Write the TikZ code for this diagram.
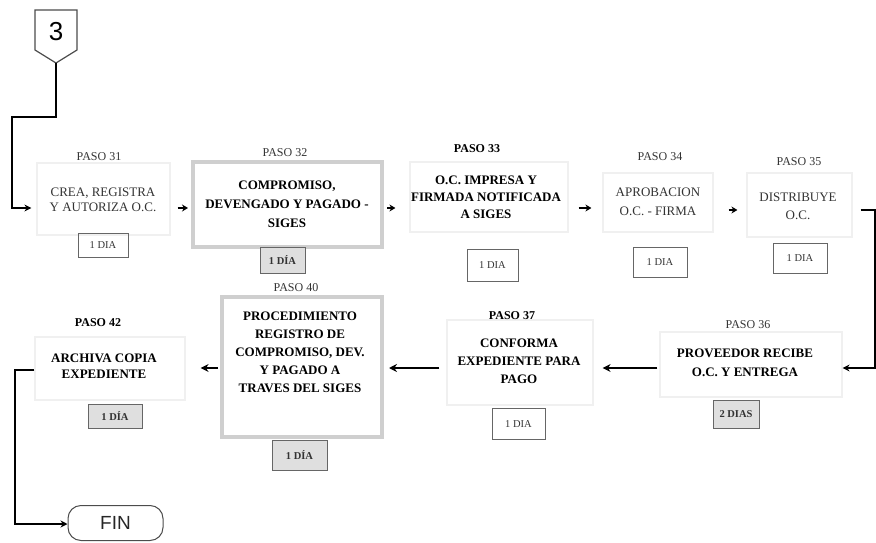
\documentclass[tikz,border=0pt]{standalone}
\usepackage{fontspec}
\setmainfont{Liberation Serif}
\newfontfamily\sansf{Liberation Sans}
\usetikzlibrary{arrows.meta}
\begin{document}
\begin{tikzpicture}[x=1pt,y=-1pt,
  faint/.style={draw=gray!12, line width=1.2pt, inner sep=0pt},
  heavybox/.style={draw=gray!38, line width=4pt, fill=white, inner sep=0pt},
  daybox/.style={draw=black!60, line width=0.9pt, inner sep=0pt, text=black!80, font=\fontsize{10.5}{12}\selectfont},
  daygray/.style={daybox, fill=gray!25, font=\bfseries\fontsize{10.5}{12}\selectfont},
  paso/.style={font=\fontsize{12}{14}\selectfont, text=black!80},
  pasob/.style={font=\bfseries\fontsize{12}{14}\selectfont},
  txt/.style={align=center, inner sep=0pt, text=black!80},
  txtb/.style={align=center, inner sep=0pt, font=\bfseries},
  conn/.style={line width=1.8pt, -{Stealth[length=7pt,width=7pt]}},
  small arrow/.style={line width=1.6pt, -{Stealth[length=6pt,width=7pt]}},
  big arrow/.style={line width=2.2pt, -{Stealth[length=8pt,width=8pt]}}
]
\useasboundingbox (0,0) rectangle (876,543);

% off-page connector 3
\draw[draw=black!70, line width=1.2pt] (35,10) -- (77,10) -- (77,50) -- (56,63) -- (35,50) -- cycle;
\node[font=\sansf\fontsize{26}{28}\selectfont] (c3) at (56,32) {3};
\coordinate (c3s) at (56,63);
\coordinate (k1) at (12,117);
\coordinate (k2) at (12,208);
\coordinate (r1) at (0,208);
\coordinate (r2) at (0,368);
\coordinate (k3) at (875,210);
\coordinate (k4) at (875,368);
\coordinate (k5) at (15,370);
\coordinate (k6) at (15,524);

% boxes row 1
\node[faint, minimum width=133pt, minimum height=72pt] (b31) at (103.5,199) {};
\node[heavybox, minimum width=189pt, minimum height=85pt] (b32) at (287.5,204.5) {};
\node[faint, minimum width=158pt, minimum height=70pt] (b33) at (489,197) {};
\node[faint, minimum width=110pt, minimum height=59pt] (b34) at (658,202.5) {};
\node[faint, minimum width=105pt, minimum height=64pt] (b35) at (799.5,205) {};
% boxes row 2
\node[faint, minimum width=182pt, minimum height=65pt] (b36) at (751,364.5) {};
\node[faint, minimum width=146pt, minimum height=85pt] (b37) at (520,362.5) {};
\node[heavybox, minimum width=160pt, minimum height=140pt] (b40) at (302,367) {};
\node[faint, minimum width=150pt, minimum height=63pt] (b42) at (110,368.5) {};

% texts
\node[txt, font=\fontsize{13}{15}\selectfont] (t31) at (103,200) {CREA, REGISTRA\\Y AUTORIZA O.C.};
\node[txtb, font=\bfseries\fontsize{13}{19}\selectfont] (t32) at (287,204) {COMPROMISO,\\DEVENGADO Y PAGADO -\\SIGES};
\node[txtb, font=\bfseries\fontsize{13}{17}\selectfont] (t33) at (486,197) {O.C. IMPRESA Y\\FIRMADA NOTIFICADA\\A SIGES};
\node[txt, font=\fontsize{13}{19}\selectfont] (t34) at (658,202) {APROBACION\\O.C. - FIRMA};
\node[txt, font=\fontsize{13}{18}\selectfont] (t35) at (798,206) {DISTRIBUYE\\O.C.};
\node[txtb, font=\bfseries\fontsize{13}{19}\selectfont] (t36) at (745,363) {PROVEEDOR RECIBE\\O.C. Y ENTREGA};
\node[txtb, font=\bfseries\fontsize{13}{18}\selectfont] (t37) at (519,361) {CONFORMA\\EXPEDIENTE PARA\\PAGO};
\node[txtb, font=\bfseries\fontsize{13}{18}\selectfont] (t40) at (300,352) {PROCEDIMIENTO\\REGISTRO DE\\COMPROMISO, DEV.\\Y PAGADO A\\TRAVES DEL SIGES};
\node[txtb, font=\bfseries\fontsize{13}{16}\selectfont] (t42) at (104,366) {ARCHIVA COPIA\\EXPEDIENTE};

% PASO labels
\node[paso] (p31) at (99,157) {PASO 31};
\node[paso] (p32) at (285,153) {PASO 32};
\node[pasob] (p33) at (477,149) {PASO 33};
\node[paso] (p34) at (660,157) {PASO 34};
\node[paso] (p35) at (799,162) {PASO 35};
\node[paso] (p36) at (748,325) {PASO 36};
\node[pasob] (p37) at (512,316) {PASO 37};
\node[paso] (p40) at (296,288) {PASO 40};
\node[pasob] (p42) at (98,323) {PASO 42};

% day boxes
\node[daybox, minimum width=50pt, minimum height=24pt] (d31) at (103,245) {1 DIA};
\node[daygray, minimum width=45pt, minimum height=26pt] (d32) at (282.5,260) {1 DÍA};
\node[daybox, minimum width=51pt, minimum height=32pt] (d33) at (492.5,265) {1 DIA};
\node[daybox, minimum width=54pt, minimum height=30pt] (d34) at (660,262) {1 DIA};
\node[daybox, minimum width=54pt, minimum height=30pt] (d35) at (800,258) {1 DIA};
\node[daygray, minimum width=46pt, minimum height=28pt] (d36) at (736,414) {2 DIAS};
\node[daybox, minimum width=53pt, minimum height=31pt] (d37) at (518.5,424) {1 DIA};
\node[daygray, minimum width=55pt, minimum height=30pt] (d40) at (299.5,455) {1 DÍA};
\node[daygray, minimum width=54pt, minimum height=24pt] (d42) at (115,416.5) {1 DÍA};

% FIN terminator
\node[draw=black!70, line width=1pt, rounded corners=13pt, minimum width=95pt, minimum height=35pt, text=black!85, font=\sansf\fontsize{19}{20}\selectfont] (fin) at (115.5,523) {FIN};

% connectors
\draw[conn, shorten >=5pt] (c3s) |- (k1) -- (k2) -- (b31.west |- k2);
\draw[small arrow, shorten <=7pt, shorten >=3pt] (b31.east |- r1) -- (b32.west |- r1);
\draw[small arrow, shorten <=3pt, shorten >=14pt] (b32.east |- r1) -- (b33.west |- r1);
\draw[small arrow, shorten <=10pt, shorten >=11pt] (b33.east |- r1) -- (b34.west |- r1);
\draw[small arrow, shorten <=15pt, shorten >=9pt] (b34.east |- k3) -- (b35.west |- k3);
\draw[conn, shorten <=8pt] (b35.east |- k3) -- (k3) -- (k4) -- (b36.east |- k4);
\draw[big arrow, shorten <=2pt, shorten >=9pt] (b36.west |- r2) -- (b37.east |- r2);
\draw[big arrow, shorten <=7pt, shorten >=5pt] (b37.west |- r2) -- (b40.east |- r2);
\draw[big arrow, shorten <=2pt, shorten >=15pt] (b40.west |- r2) -- (b42.east |- r2);
\draw[conn] (b42.west |- k5) -- (k5) -- (k6) -- (fin.west |- k6);
\end{tikzpicture}
\end{document}
